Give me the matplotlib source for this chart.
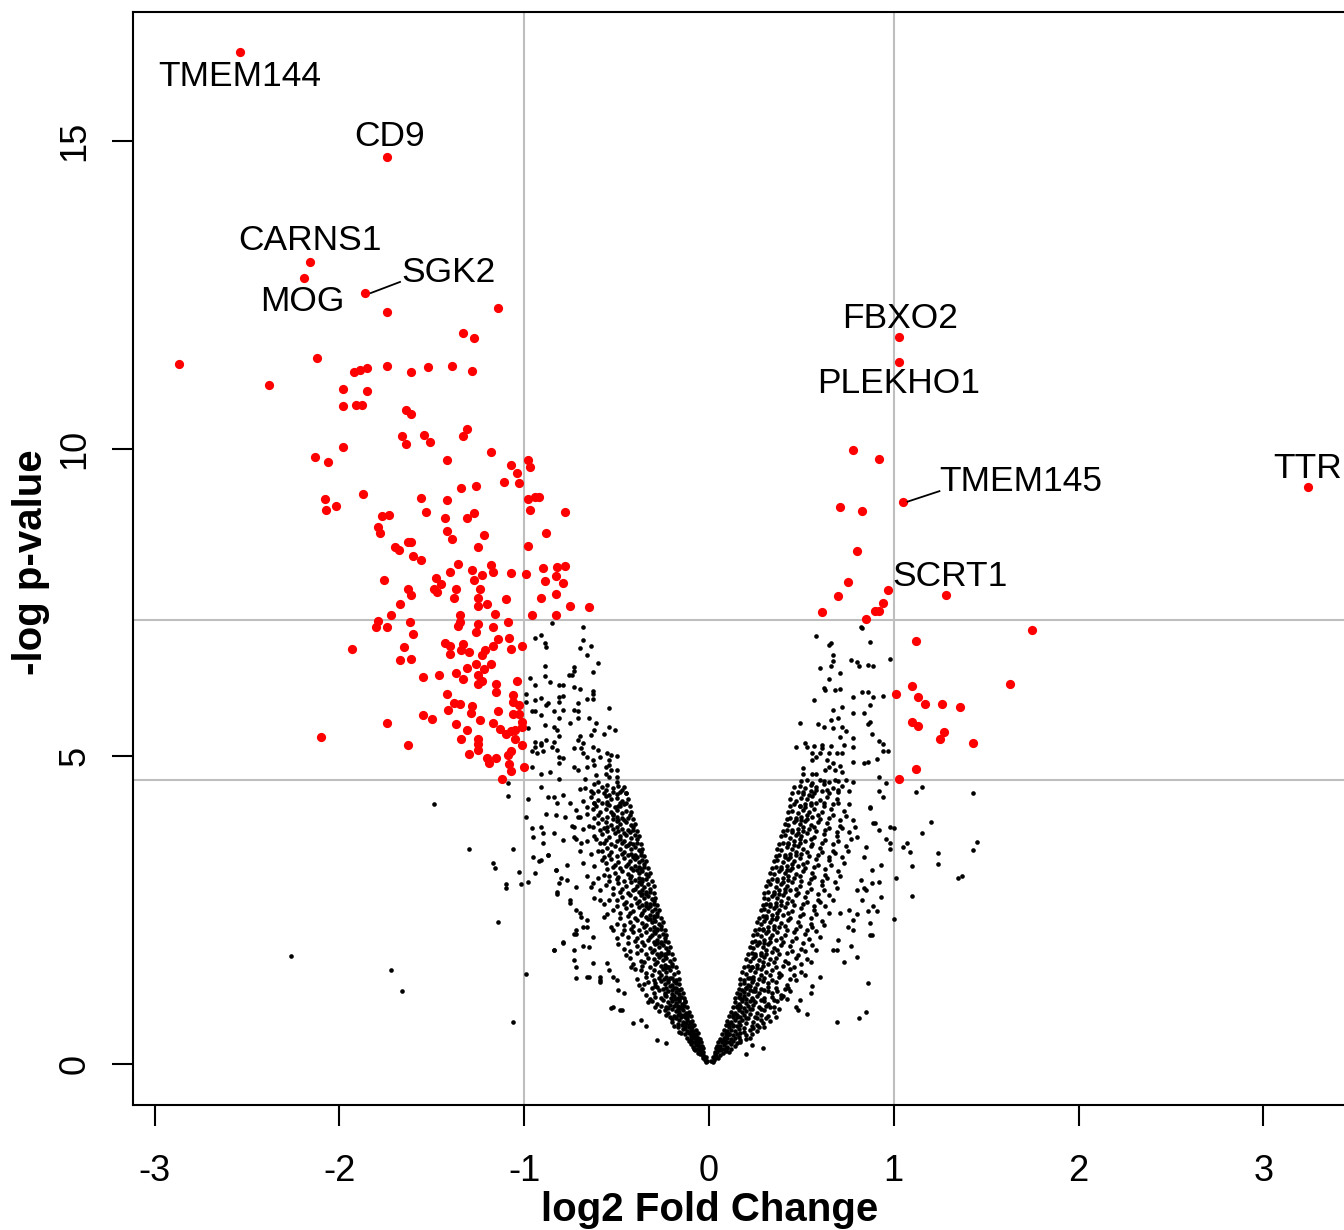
import matplotlib
matplotlib.use("Agg")
import matplotlib.pyplot as plt

plt.rcParams['font.family'] = ['Liberation Sans', 'DejaVu Sans']
plt.rcParams['axes.unicode_minus'] = False

# ---------------- data (log2 fold change, -log p-value) ----------------
red_left = [
    (-2.54, 16.44), (-1.74, 14.74), (-2.16, 13.04), (-2.19, 12.77), (-1.86, 12.53), (-1.74, 12.22), (-1.14, 12.29),
    (-1.33, 11.88), (-1.27, 11.80), (-2.12, 11.48), (-2.87, 11.37), (-1.92, 11.25), (-1.89, 11.28), (-1.85, 11.31),
    (-1.74, 11.34), (-1.61, 11.24), (-1.52, 11.32), (-1.39, 11.34), (-1.28, 11.26), (-2.38, 11.03), (-1.98, 10.97),
    (-1.85, 10.93), (-1.98, 10.69), (-1.91, 10.71), (-1.88, 10.71), (-1.64, 10.63), (-1.61, 10.57), (-1.66, 10.21),
    (-1.64, 10.07), (-1.54, 10.23), (-1.51, 10.11), (-1.33, 10.21), (-1.31, 10.32), (-1.98, 10.03), (-1.18, 9.95),
    (-2.13, 9.86), (-2.06, 9.78), (-1.42, 9.82), (-0.98, 9.82), (-1.07, 9.73), (-0.97, 9.71), (-1.04, 9.60),
    (-1.11, 9.46), (-1.03, 9.45), (-1.34, 9.36), (-1.26, 9.39), (-1.87, 9.27), (-2.08, 9.19), (-2.02, 9.07),
    (-2.07, 9.00), (-1.56, 9.20), (-1.42, 9.16), (-0.98, 9.18), (-0.94, 9.21), (-0.92, 9.21), (-0.97, 9.00),
    (-0.78, 8.97), (-1.53, 8.97), (-1.77, 8.90), (-1.73, 8.92), (-1.43, 8.87), (-1.31, 8.87), (-1.27, 8.96),
    (-1.79, 8.73), (-1.78, 8.63), (-1.42, 8.67), (-1.39, 8.53), (-1.22, 8.59), (-0.88, 8.63), (-1.63, 8.48),
    (-1.61, 8.48), (-1.70, 8.41), (-1.68, 8.36), (-1.25, 8.40), (-0.98, 8.42), (-1.60, 8.26), (-1.56, 8.19),
    (-1.36, 8.12), (-1.40, 7.99), (-1.28, 8.03), (-1.18, 8.11), (-1.17, 8.00), (-1.07, 7.98), (-0.99, 7.96),
    (-0.90, 8.06), (-0.82, 8.07), (-0.78, 8.10), (-0.83, 7.93), (-0.89, 7.85), (-0.79, 7.82), (-1.76, 7.87),
    (-1.48, 7.90), (-1.45, 7.80), (-1.49, 7.72), (-1.47, 7.67), (-1.63, 7.72), (-1.61, 7.63), (-1.37, 7.72),
    (-1.38, 7.58), (-1.27, 7.87), (-1.23, 7.94), (-1.24, 7.72), (-1.25, 7.57), (-1.25, 7.44), (-1.10, 7.56),
    (-0.91, 7.57), (-0.83, 7.64), (-0.75, 7.45), (-0.65, 7.43), (-1.67, 7.47), (-1.20, 7.47), (-1.72, 7.30),
    (-1.35, 7.30), (-1.16, 7.32), (-0.96, 7.30), (-0.83, 7.30), (-1.79, 7.20), (-1.80, 7.11), (-1.74, 7.11),
    (-1.62, 7.18), (-1.09, 7.19), (-1.36, 7.12), (-1.35, 7.19), (-1.25, 7.15), (-1.17, 7.11), (-1.60, 6.99),
    (-1.26, 7.02), (-1.14, 6.91), (-1.08, 6.92), (-1.93, 6.74), (-1.65, 6.78), (-1.67, 6.56), (-1.61, 6.58),
    (-1.43, 6.85), (-1.40, 6.80), (-1.40, 6.67), (-1.34, 6.73), (-1.33, 6.82), (-1.30, 6.70), (-1.21, 6.73),
    (-1.17, 6.80), (-1.07, 6.74), (-1.01, 6.80), (-1.23, 6.64), (-1.26, 6.50), (-1.22, 6.42), (-1.18, 6.50),
    (-1.31, 6.44), (-1.25, 6.32), (-1.23, 6.23), (-1.25, 6.17), (-1.37, 6.35), (-1.33, 6.26), (-1.46, 6.33),
    (-1.55, 6.29), (-1.15, 6.17), (-1.15, 6.04), (-1.04, 6.22), (-1.42, 6.01), (-1.38, 5.87), (-1.35, 5.85),
    (-1.28, 5.82), (-1.41, 5.75), (-1.29, 5.71), (-1.55, 5.67), (-1.50, 5.61), (-1.14, 5.74), (-1.06, 6.00),
    (-1.06, 5.89), (-1.03, 5.83), (-1.06, 5.69), (-1.03, 5.69), (-1.24, 5.59), (-1.37, 5.52), (-1.17, 5.55),
    (-1.01, 5.56), (-1.01, 5.48), (-1.13, 5.45), (-1.10, 5.36), (-1.07, 5.42), (-1.05, 5.43), (-1.31, 5.43),
    (-1.74, 5.54), (-2.10, 5.32), (-1.63, 5.19), (-1.34, 5.28), (-1.25, 5.29), (-1.25, 5.20), (-1.25, 5.10),
    (-1.05, 5.28), (-1.01, 5.18), (-1.30, 5.04), (-1.20, 4.98), (-1.19, 4.89), (-1.15, 4.98), (-1.09, 5.03),
    (-1.07, 5.09), (-1.08, 4.88), (-1.07, 4.76), (-1.00, 4.83), (-1.12, 4.63),
]

red_right = [
    (1.03, 11.82), (1.03, 11.41), (0.78, 9.98), (0.92, 9.84), (1.05, 9.14), (0.71, 9.06), (0.83, 8.98),
    (0.80, 8.34), (0.75, 7.84), (0.70, 7.61), (0.61, 7.35), (0.97, 7.71), (0.94, 7.49), (0.90, 7.37),
    (0.92, 7.37), (0.85, 7.24), (1.28, 7.63), (3.24, 9.37), (1.75, 7.06), (1.12, 6.87), (1.63, 6.17),
    (1.10, 6.15), (1.01, 6.01), (1.13, 5.96), (1.17, 5.85), (1.26, 5.85), (1.36, 5.80), (1.10, 5.56),
    (1.13, 5.50), (1.27, 5.40), (1.25, 5.28), (1.43, 5.21), (1.12, 4.79), (1.03, 4.63),
]

black_left_core = [
    (-0.01, 0.05), (-0.015, 0.04), (-0.02, 0.07),
    (-0.015, 0.12), (-0.025, 0.11), (-0.035, 0.13), (-0.03, 0.15),
    (-0.03, 0.2), (-0.04, 0.19), (-0.05, 0.22), (-0.06, 0.18), (-0.045, 0.24),
    (-0.04, 0.3), (-0.055, 0.29), (-0.07, 0.31), (-0.085, 0.28), (-0.06, 0.34), (-0.095, 0.33),
    (-0.05, 0.41), (-0.065, 0.39), (-0.08, 0.42), (-0.1, 0.4), (-0.12, 0.43), (-0.07, 0.46), (-0.09, 0.47),
    (-0.07, 0.55), (-0.085, 0.53), (-0.1, 0.56), (-0.12, 0.54), (-0.14, 0.57), (-0.16, 0.52), (-0.11, 0.6), (-0.13, 0.62),
    (-0.09, 0.7), (-0.105, 0.68), (-0.12, 0.72), (-0.14, 0.69), (-0.16, 0.71), (-0.18, 0.74), (-0.2, 0.68), (-0.13, 0.77), (-0.15, 0.79),
    (-0.11, 0.85), (-0.125, 0.83), (-0.14, 0.87), (-0.16, 0.84), (-0.18, 0.86), (-0.2, 0.9), (-0.22, 0.83), (-0.24, 0.88), (-0.15, 0.93), (-0.17, 0.95),
    (-0.13, 1.0), (-0.145, 0.98), (-0.16, 1.02), (-0.18, 0.99), (-0.2, 1.03), (-0.22, 1.0), (-0.25, 1.04), (-0.28, 0.98), (-0.31, 1.02), (-0.17, 1.08), (-0.19, 1.1),
    (-0.14, 1.15), (-0.16, 1.14), (-0.18, 1.17), (-0.2, 1.13), (-0.22, 1.18), (-0.24, 1.15), (-0.27, 1.2), (-0.3, 1.16), (-0.34, 1.12), (-0.19, 1.24), (-0.21, 1.26),
    (-0.16, 1.3), (-0.18, 1.32), (-0.2, 1.29), (-0.22, 1.33), (-0.24, 1.3), (-0.26, 1.35), (-0.29, 1.31), (-0.33, 1.34), (-0.38, 1.28), (-0.21, 1.4), (-0.23, 1.42),
    (-0.17, 1.5), (-0.19, 1.47), (-0.21, 1.52), (-0.23, 1.49), (-0.25, 1.54), (-0.27, 1.5), (-0.3, 1.53), (-0.34, 1.48), (-0.4, 1.55), (-0.22, 1.58), (-0.24, 1.61),
    (-0.19, 1.7), (-0.21, 1.68), (-0.23, 1.72), (-0.25, 1.69), (-0.27, 1.74), (-0.3, 1.7), (-0.33, 1.73), (-0.37, 1.67), (-0.43, 1.72), (-0.24, 1.78), (-0.26, 1.81),
    (-0.21, 1.9), (-0.23, 1.88), (-0.25, 1.93), (-0.27, 1.9), (-0.29, 1.95), (-0.32, 1.89), (-0.35, 1.94), (-0.39, 1.91), (-0.46, 1.87), (-0.26, 1.99), (-0.28, 2.02),
    (-0.23, 2.1), (-0.25, 2.12), (-0.27, 2.08), (-0.29, 2.13), (-0.31, 2.1), (-0.34, 2.15), (-0.37, 2.09), (-0.41, 2.14), (-0.47, 2.11), (-0.28, 2.2), (-0.3, 2.22),
    (-0.25, 2.3), (-0.27, 2.28), (-0.29, 2.33), (-0.31, 2.3), (-0.33, 2.35), (-0.36, 2.29), (-0.39, 2.34), (-0.43, 2.31), (-0.5, 2.27), (-0.3, 2.4), (-0.32, 2.42),
    (-0.27, 2.5), (-0.29, 2.52), (-0.31, 2.48), (-0.33, 2.53), (-0.35, 2.5), (-0.38, 2.55), (-0.41, 2.49), (-0.45, 2.54), (-0.52, 2.51), (-0.32, 2.6), (-0.34, 2.62),
    (-0.29, 2.7), (-0.31, 2.68), (-0.33, 2.73), (-0.35, 2.7), (-0.37, 2.75), (-0.4, 2.69), (-0.43, 2.74), (-0.47, 2.71), (-0.54, 2.67), (-0.34, 2.8), (-0.36, 2.82),
    (-0.3, 2.9), (-0.33, 2.92), (-0.35, 2.88), (-0.37, 2.93), (-0.39, 2.9), (-0.42, 2.95), (-0.45, 2.89), (-0.49, 2.94), (-0.56, 2.91), (-0.36, 3.0), (-0.38, 3.02),
    (-0.32, 3.1), (-0.34, 3.08), (-0.36, 3.13), (-0.38, 3.1), (-0.41, 3.15), (-0.44, 3.09), (-0.47, 3.14), (-0.51, 3.11), (-0.57, 3.07), (-0.38, 3.2), (-0.4, 3.22),
    (-0.34, 3.3), (-0.36, 3.32), (-0.38, 3.28), (-0.4, 3.33), (-0.43, 3.3), (-0.46, 3.35), (-0.49, 3.29), (-0.53, 3.34), (-0.58, 3.31), (-0.4, 3.4), (-0.42, 3.42),
    (-0.36, 3.5), (-0.38, 3.48), (-0.4, 3.53), (-0.42, 3.5), (-0.45, 3.55), (-0.48, 3.49), (-0.51, 3.54), (-0.55, 3.51), (-0.6, 3.47), (-0.43, 3.6), (-0.46, 3.62),
    (-0.38, 3.7), (-0.4, 3.72), (-0.42, 3.68), (-0.45, 3.73), (-0.48, 3.7), (-0.51, 3.75), (-0.54, 3.69), (-0.58, 3.74), (-0.62, 3.71), (-0.44, 3.8), (-0.47, 3.82),
    (-0.4, 3.9), (-0.42, 3.88), (-0.45, 3.93), (-0.48, 3.9), (-0.5, 3.95), (-0.53, 3.89), (-0.56, 3.94), (-0.6, 3.91), (-0.65, 3.87), (-0.47, 4.0), (-0.5, 4.02),
    (-0.42, 4.1), (-0.45, 4.12), (-0.47, 4.08), (-0.5, 4.13), (-0.53, 4.1), (-0.56, 4.15), (-0.59, 4.09), (-0.63, 4.14), (-0.49, 4.2), (-0.55, 4.22),
    (-0.44, 4.3), (-0.47, 4.28), (-0.5, 4.33), (-0.53, 4.3), (-0.56, 4.35), (-0.6, 4.29), (-0.64, 4.34), (-0.52, 4.42),
    (-0.46, 4.5), (-0.49, 4.52), (-0.52, 4.48), (-0.55, 4.53), (-0.58, 4.5), (-0.62, 4.55), (-0.67, 4.49),
]

black_left_core2 = [
    (-0.035, 0.26), (-0.05, 0.27), (-0.065, 0.25), (-0.075, 0.23),
    (-0.045, 0.36), (-0.065, 0.37), (-0.08, 0.35), (-0.1, 0.36), (-0.11, 0.38),
    (-0.06, 0.5), (-0.075, 0.49), (-0.09, 0.51), (-0.11, 0.5), (-0.13, 0.49), (-0.15, 0.5),
    (-0.08, 0.63), (-0.095, 0.65), (-0.11, 0.64), (-0.125, 0.66), (-0.145, 0.63), (-0.17, 0.65), (-0.19, 0.62),
    (-0.1, 0.78), (-0.115, 0.8), (-0.135, 0.79), (-0.15, 0.76), (-0.17, 0.8), (-0.19, 0.78), (-0.21, 0.76), (-0.23, 0.8),
    (-0.12, 0.93), (-0.135, 0.95), (-0.15, 0.91), (-0.17, 0.92), (-0.19, 0.94), (-0.21, 0.96), (-0.23, 0.93), (-0.26, 0.95), (-0.29, 0.92),
    (-0.135, 1.07), (-0.15, 1.09), (-0.165, 1.06), (-0.185, 1.05), (-0.205, 1.08), (-0.23, 1.1), (-0.26, 1.07), (-0.29, 1.09), (-0.32, 1.06),
    (-0.15, 1.22), (-0.165, 1.21), (-0.18, 1.23), (-0.2, 1.21), (-0.23, 1.24), (-0.25, 1.22), (-0.28, 1.25), (-0.31, 1.23), (-0.36, 1.22),
    (-0.165, 1.38), (-0.18, 1.37), (-0.2, 1.39), (-0.22, 1.36), (-0.245, 1.38), (-0.27, 1.4), (-0.3, 1.37), (-0.34, 1.41), (-0.39, 1.38),
    (-0.18, 1.58), (-0.2, 1.6), (-0.22, 1.57), (-0.24, 1.56), (-0.26, 1.59), (-0.29, 1.62), (-0.32, 1.58), (-0.36, 1.6), (-0.42, 1.58),
    (-0.2, 1.78), (-0.22, 1.8), (-0.24, 1.76), (-0.26, 1.77), (-0.28, 1.79), (-0.31, 1.82), (-0.34, 1.78), (-0.39, 1.8), (-0.45, 1.77),
    (-0.22, 1.98), (-0.24, 2.0), (-0.26, 1.97), (-0.28, 1.96), (-0.3, 1.99), (-0.33, 2.02), (-0.36, 1.98), (-0.4, 2.0), (-0.44, 1.97),
    (-0.24, 2.18), (-0.26, 2.2), (-0.28, 2.17), (-0.3, 2.16), (-0.32, 2.19), (-0.35, 2.22), (-0.38, 2.18), (-0.42, 2.2), (-0.46, 2.17),
    (-0.26, 2.38), (-0.28, 2.4), (-0.3, 2.37), (-0.32, 2.36), (-0.34, 2.39), (-0.37, 2.42), (-0.4, 2.38), (-0.44, 2.4), (-0.48, 2.37),
    (-0.28, 2.58), (-0.3, 2.6), (-0.32, 2.57), (-0.34, 2.56), (-0.36, 2.59), (-0.39, 2.62), (-0.42, 2.58), (-0.46, 2.6), (-0.5, 2.57),
    (-0.3, 2.78), (-0.32, 2.8), (-0.34, 2.77), (-0.36, 2.76), (-0.38, 2.79), (-0.41, 2.82), (-0.44, 2.78), (-0.48, 2.8), (-0.52, 2.77),
    (-0.31, 2.98), (-0.34, 3.0), (-0.36, 2.97), (-0.38, 2.96), (-0.4, 2.99), (-0.43, 3.02), (-0.46, 2.98), (-0.5, 3.0), (-0.54, 2.97),
    (-0.33, 3.18), (-0.35, 3.2), (-0.37, 3.17), (-0.39, 3.16), (-0.42, 3.19), (-0.45, 3.22), (-0.48, 3.18), (-0.52, 3.2), (-0.55, 3.17),
    (-0.35, 3.38), (-0.37, 3.4), (-0.39, 3.37), (-0.41, 3.36), (-0.44, 3.39), (-0.47, 3.42), (-0.5, 3.38), (-0.54, 3.4), (-0.57, 3.37),
    (-0.37, 3.58), (-0.39, 3.6), (-0.41, 3.57), (-0.44, 3.56), (-0.47, 3.59), (-0.5, 3.62), (-0.53, 3.58), (-0.57, 3.6),
    (-0.39, 3.78), (-0.41, 3.8), (-0.43, 3.77), (-0.46, 3.76), (-0.49, 3.79), (-0.52, 3.82), (-0.55, 3.78), (-0.59, 3.8),
    (-0.41, 3.98), (-0.44, 4.0), (-0.46, 3.97), (-0.49, 3.96), (-0.52, 3.99), (-0.55, 4.02), (-0.58, 3.98), (-0.62, 4.0),
    (-0.43, 4.2), (-0.46, 4.22), (-0.48, 4.19), (-0.51, 4.18), (-0.54, 4.21), (-0.58, 4.24), (-0.61, 4.2),
    (-0.45, 4.4), (-0.48, 4.42), (-0.5, 4.39), (-0.54, 4.38), (-0.57, 4.41), (-0.6, 4.44), (-0.63, 4.4),
]

black_left_core3 = [
    (-0.03, 0.09), (-0.05, 0.16), (-0.08, 0.24), (-0.06, 0.42), (-0.1, 0.45), (-0.13, 0.58), (-0.09, 0.6),
    (-0.17, 0.6), (-0.12, 0.74), (-0.2, 0.73), (-0.17, 0.89), (-0.22, 0.91), (-0.27, 0.86), (-0.13, 1.03),
    (-0.24, 1.12), (-0.33, 1.0), (-0.29, 1.27), (-0.35, 1.3), (-0.19, 1.35), (-0.26, 1.45), (-0.31, 1.45),
    (-0.37, 1.52), (-0.2, 1.63), (-0.28, 1.66), (-0.35, 1.65), (-0.41, 1.62), (-0.22, 1.84), (-0.3, 1.86),
    (-0.37, 1.85), (-0.43, 1.83), (-0.49, 1.95), (-0.24, 2.05), (-0.32, 2.06), (-0.39, 2.05), (-0.44, 2.07),
    (-0.5, 2.04), (-0.26, 2.25), (-0.34, 2.26), (-0.41, 2.25), (-0.46, 2.26), (-0.53, 2.22), (-0.28, 2.45),
    (-0.36, 2.45), (-0.43, 2.45), (-0.48, 2.46), (-0.55, 2.43), (-0.3, 2.65), (-0.38, 2.65), (-0.45, 2.64),
    (-0.5, 2.66), (-0.57, 2.6), (-0.62, 2.7), (-0.32, 2.85), (-0.4, 2.85), (-0.47, 2.84), (-0.52, 2.86),
    (-0.59, 2.83), (-0.64, 2.88), (-0.33, 3.05), (-0.42, 3.05), (-0.49, 3.04), (-0.54, 3.06), (-0.6, 3.02),
    (-0.66, 3.05), (-0.35, 3.25), (-0.44, 3.25), (-0.51, 3.24), (-0.56, 3.26), (-0.62, 3.22), (-0.68, 3.27),
    (-0.37, 3.45), (-0.46, 3.45), (-0.53, 3.44), (-0.58, 3.46), (-0.64, 3.42), (-0.7, 3.47), (-0.39, 3.65),
    (-0.48, 3.65), (-0.56, 3.64), (-0.61, 3.66), (-0.66, 3.62), (-0.72, 3.66), (-0.41, 3.85), (-0.5, 3.85),
    (-0.57, 3.84), (-0.63, 3.86), (-0.68, 3.82), (-0.74, 3.87), (-0.43, 4.05), (-0.52, 4.05), (-0.6, 4.04),
    (-0.66, 4.06), (-0.71, 4.02), (-0.45, 4.25), (-0.55, 4.26), (-0.62, 4.24), (-0.68, 4.27), (-0.47, 4.45),
    (-0.56, 4.46), (-0.64, 4.44), (-0.7, 4.47), (-0.5, 4.58), (-0.6, 4.59),
]

black_right_core = [
    (0.01, 0.05), (0.02, 0.04), (0.025, 0.07),
    (0.02, 0.12), (0.03, 0.11), (0.04, 0.13), (0.05, 0.1), (0.035, 0.16),
    (0.03, 0.2), (0.045, 0.19), (0.06, 0.22), (0.075, 0.18), (0.09, 0.21), (0.05, 0.25),
    (0.045, 0.3), (0.06, 0.29), (0.08, 0.31), (0.1, 0.28), (0.12, 0.32), (0.14, 0.29), (0.07, 0.35), (0.09, 0.36),
    (0.06, 0.41), (0.08, 0.39), (0.1, 0.42), (0.12, 0.4), (0.14, 0.43), (0.17, 0.39), (0.2, 0.41), (0.09, 0.46), (0.11, 0.48),
    (0.08, 0.55), (0.1, 0.53), (0.12, 0.56), (0.14, 0.54), (0.16, 0.57), (0.19, 0.52), (0.22, 0.56), (0.26, 0.54), (0.11, 0.6), (0.13, 0.62), (0.3, 0.6),
    (0.1, 0.7), (0.12, 0.68), (0.14, 0.72), (0.16, 0.69), (0.18, 0.71), (0.21, 0.74), (0.24, 0.68), (0.28, 0.72), (0.13, 0.77), (0.15, 0.79), (0.33, 0.7),
    (0.12, 0.85), (0.14, 0.83), (0.16, 0.87), (0.18, 0.84), (0.2, 0.86), (0.23, 0.9), (0.26, 0.83), (0.3, 0.88), (0.15, 0.93), (0.17, 0.95), (0.35, 0.85),
    (0.14, 1.0), (0.16, 0.98), (0.18, 1.02), (0.2, 0.99), (0.22, 1.03), (0.25, 1.0), (0.28, 1.04), (0.32, 0.98), (0.37, 1.02), (0.17, 1.08), (0.19, 1.1), (0.42, 1.05),
    (0.15, 1.15), (0.17, 1.14), (0.19, 1.17), (0.21, 1.13), (0.24, 1.18), (0.27, 1.15), (0.3, 1.2), (0.34, 1.16), (0.39, 1.12), (0.2, 1.24), (0.22, 1.26), (0.44, 1.18),
    (0.17, 1.3), (0.19, 1.32), (0.21, 1.29), (0.23, 1.33), (0.26, 1.3), (0.29, 1.35), (0.32, 1.31), (0.36, 1.34), (0.42, 1.28), (0.22, 1.4), (0.24, 1.42), (0.47, 1.36),
    (0.18, 1.5), (0.2, 1.47), (0.22, 1.52), (0.25, 1.49), (0.28, 1.54), (0.31, 1.5), (0.34, 1.53), (0.38, 1.48), (0.44, 1.55), (0.23, 1.58), (0.26, 1.61), (0.5, 1.5),
    (0.2, 1.7), (0.22, 1.68), (0.24, 1.72), (0.27, 1.69), (0.3, 1.74), (0.33, 1.7), (0.36, 1.73), (0.41, 1.67), (0.47, 1.72), (0.25, 1.78), (0.28, 1.81), (0.53, 1.7),
    (0.22, 1.9), (0.24, 1.88), (0.26, 1.93), (0.29, 1.9), (0.32, 1.95), (0.35, 1.89), (0.39, 1.94), (0.44, 1.91), (0.5, 1.87), (0.27, 1.99), (0.3, 2.02), (0.56, 1.93),
    (0.24, 2.1), (0.26, 2.12), (0.28, 2.08), (0.31, 2.13), (0.34, 2.1), (0.37, 2.15), (0.41, 2.09), (0.46, 2.14), (0.52, 2.11), (0.29, 2.2), (0.32, 2.22), (0.58, 2.16),
    (0.26, 2.3), (0.28, 2.28), (0.3, 2.33), (0.33, 2.3), (0.36, 2.35), (0.39, 2.29), (0.43, 2.34), (0.48, 2.31), (0.55, 2.27), (0.31, 2.4), (0.34, 2.42), (0.61, 2.33),
    (0.28, 2.5), (0.3, 2.52), (0.32, 2.48), (0.35, 2.53), (0.38, 2.5), (0.41, 2.55), (0.45, 2.49), (0.5, 2.54), (0.57, 2.51), (0.33, 2.6), (0.36, 2.62), (0.63, 2.56),
    (0.3, 2.7), (0.32, 2.68), (0.34, 2.73), (0.37, 2.7), (0.4, 2.75), (0.43, 2.69), (0.47, 2.74), (0.52, 2.71), (0.59, 2.67), (0.35, 2.8), (0.38, 2.82), (0.65, 2.74),
    (0.31, 2.9), (0.33, 2.92), (0.36, 2.88), (0.39, 2.93), (0.42, 2.9), (0.45, 2.95), (0.49, 2.89), (0.54, 2.94), (0.61, 2.91), (0.37, 3.0), (0.4, 3.02), (0.68, 2.96),
    (0.33, 3.1), (0.35, 3.08), (0.38, 3.13), (0.41, 3.1), (0.44, 3.15), (0.47, 3.09), (0.51, 3.14), (0.56, 3.11), (0.63, 3.07), (0.39, 3.2), (0.42, 3.22), (0.7, 3.13),
    (0.35, 3.3), (0.37, 3.32), (0.4, 3.28), (0.43, 3.33), (0.46, 3.3), (0.49, 3.35), (0.53, 3.29), (0.58, 3.34), (0.65, 3.31), (0.41, 3.4), (0.44, 3.42), (0.72, 3.36),
    (0.37, 3.5), (0.39, 3.48), (0.42, 3.53), (0.45, 3.5), (0.48, 3.55), (0.51, 3.49), (0.55, 3.54), (0.6, 3.51), (0.67, 3.47), (0.43, 3.6), (0.46, 3.62), (0.74, 3.55),
    (0.39, 3.7), (0.41, 3.72), (0.44, 3.68), (0.47, 3.73), (0.5, 3.7), (0.53, 3.75), (0.57, 3.69), (0.62, 3.74), (0.69, 3.71), (0.45, 3.8), (0.48, 3.82), (0.76, 3.77),
    (0.41, 3.9), (0.43, 3.88), (0.46, 3.93), (0.49, 3.9), (0.52, 3.95), (0.55, 3.89), (0.59, 3.94), (0.64, 3.91), (0.71, 3.87), (0.47, 4.0), (0.5, 4.02), (0.78, 3.96),
    (0.43, 4.1), (0.45, 4.12), (0.48, 4.08), (0.51, 4.13), (0.54, 4.1), (0.57, 4.15), (0.61, 4.09), (0.66, 4.14), (0.73, 4.11), (0.49, 4.2), (0.52, 4.22),
    (0.44, 4.3), (0.47, 4.28), (0.5, 4.33), (0.53, 4.3), (0.56, 4.35), (0.6, 4.29), (0.64, 4.34), (0.69, 4.31), (0.51, 4.42), (0.55, 4.44),
    (0.46, 4.5), (0.49, 4.52), (0.52, 4.48), (0.55, 4.53), (0.58, 4.5), (0.62, 4.55), (0.67, 4.49), (0.72, 4.52),
]

black_right_core2 = [
    (0.04, 0.26), (0.055, 0.27), (0.07, 0.25), (0.085, 0.24), (0.1, 0.26), (0.12, 0.24),
    (0.05, 0.36), (0.07, 0.37), (0.09, 0.35), (0.11, 0.36), (0.13, 0.38), (0.15, 0.34), (0.17, 0.36),
    (0.07, 0.48), (0.09, 0.5), (0.11, 0.49), (0.13, 0.47), (0.15, 0.49), (0.17, 0.5), (0.2, 0.47), (0.23, 0.49),
    (0.09, 0.63), (0.11, 0.65), (0.13, 0.64), (0.15, 0.62), (0.17, 0.64), (0.2, 0.66), (0.23, 0.62), (0.26, 0.64), (0.29, 0.66),
    (0.11, 0.78), (0.13, 0.8), (0.15, 0.77), (0.17, 0.76), (0.19, 0.79), (0.22, 0.81), (0.25, 0.77), (0.28, 0.79), (0.32, 0.78),
    (0.13, 0.93), (0.15, 0.95), (0.17, 0.92), (0.19, 0.91), (0.21, 0.94), (0.24, 0.96), (0.27, 0.92), (0.31, 0.94), (0.35, 0.92),
    (0.14, 1.07), (0.16, 1.09), (0.18, 1.06), (0.2, 1.05), (0.23, 1.08), (0.26, 1.1), (0.3, 1.07), (0.34, 1.09), (0.39, 1.07),
    (0.16, 1.22), (0.18, 1.21), (0.2, 1.23), (0.22, 1.21), (0.25, 1.24), (0.28, 1.22), (0.32, 1.25), (0.36, 1.23), (0.41, 1.22),
    (0.17, 1.38), (0.19, 1.37), (0.21, 1.39), (0.24, 1.36), (0.27, 1.38), (0.3, 1.4), (0.34, 1.37), (0.38, 1.41), (0.44, 1.38),
    (0.19, 1.58), (0.21, 1.6), (0.23, 1.57), (0.26, 1.56), (0.29, 1.59), (0.32, 1.62), (0.36, 1.58), (0.4, 1.6), (0.46, 1.58),
    (0.21, 1.78), (0.23, 1.8), (0.25, 1.76), (0.28, 1.77), (0.31, 1.79), (0.34, 1.82), (0.38, 1.78), (0.42, 1.8), (0.48, 1.77),
    (0.23, 1.98), (0.25, 2.0), (0.27, 1.97), (0.3, 1.96), (0.33, 1.99), (0.36, 2.02), (0.4, 1.98), (0.45, 2.0), (0.51, 1.97),
    (0.25, 2.18), (0.27, 2.2), (0.29, 2.17), (0.32, 2.16), (0.35, 2.19), (0.38, 2.22), (0.42, 2.18), (0.47, 2.2), (0.53, 2.17),
    (0.27, 2.38), (0.29, 2.4), (0.31, 2.37), (0.34, 2.36), (0.37, 2.39), (0.4, 2.42), (0.44, 2.38), (0.49, 2.4), (0.55, 2.37),
    (0.29, 2.58), (0.31, 2.6), (0.33, 2.57), (0.36, 2.56), (0.39, 2.59), (0.42, 2.62), (0.46, 2.58), (0.51, 2.6), (0.57, 2.57),
    (0.3, 2.78), (0.32, 2.8), (0.35, 2.77), (0.38, 2.76), (0.41, 2.79), (0.44, 2.82), (0.48, 2.78), (0.53, 2.8), (0.59, 2.77),
    (0.32, 2.98), (0.34, 3.0), (0.37, 2.97), (0.4, 2.96), (0.43, 2.99), (0.46, 3.02), (0.5, 2.98), (0.55, 3.0), (0.61, 2.97),
    (0.34, 3.18), (0.36, 3.2), (0.39, 3.17), (0.42, 3.16), (0.45, 3.19), (0.48, 3.22), (0.52, 3.18), (0.57, 3.2), (0.63, 3.17),
    (0.36, 3.38), (0.38, 3.4), (0.41, 3.37), (0.44, 3.36), (0.47, 3.39), (0.5, 3.42), (0.54, 3.38), (0.59, 3.4), (0.65, 3.37),
    (0.38, 3.58), (0.4, 3.6), (0.43, 3.57), (0.46, 3.56), (0.49, 3.59), (0.52, 3.62), (0.56, 3.58), (0.61, 3.6), (0.67, 3.57),
    (0.4, 3.78), (0.42, 3.8), (0.45, 3.77), (0.48, 3.76), (0.51, 3.79), (0.54, 3.82), (0.58, 3.78), (0.63, 3.8), (0.69, 3.77),
    (0.42, 3.98), (0.44, 4.0), (0.47, 3.97), (0.5, 3.96), (0.53, 3.99), (0.56, 4.02), (0.6, 3.98), (0.65, 4.0), (0.71, 3.97),
    (0.44, 4.2), (0.46, 4.22), (0.49, 4.19), (0.52, 4.18), (0.55, 4.21), (0.58, 4.24), (0.62, 4.2), (0.67, 4.22),
    (0.45, 4.4), (0.48, 4.42), (0.51, 4.39), (0.54, 4.38), (0.57, 4.41), (0.61, 4.44), (0.65, 4.4), (0.7, 4.42),
]

black_right_core3 = [
    (0.03, 0.09), (0.06, 0.15), (0.11, 0.2), (0.08, 0.42), (0.16, 0.44), (0.22, 0.43), (0.19, 0.59),
    (0.24, 0.58), (0.27, 0.6), (0.2, 0.75), (0.26, 0.74), (0.31, 0.74), (0.36, 0.77), (0.22, 0.89),
    (0.28, 0.89), (0.33, 0.92), (0.38, 0.9), (0.24, 1.04), (0.3, 1.02), (0.35, 1.04), (0.4, 1.1),
    (0.25, 1.19), (0.32, 1.18), (0.37, 1.19), (0.43, 1.24), (0.28, 1.45), (0.33, 1.45), (0.39, 1.44),
    (0.46, 1.45), (0.52, 1.45), (0.29, 1.65), (0.35, 1.65), (0.43, 1.64), (0.5, 1.63), (0.55, 1.66),
    (0.31, 1.85), (0.37, 1.85), (0.45, 1.84), (0.52, 1.83), (0.58, 1.85), (0.33, 2.05), (0.39, 2.05),
    (0.47, 2.04), (0.54, 2.03), (0.6, 2.06), (0.35, 2.25), (0.41, 2.25), (0.49, 2.24), (0.56, 2.23),
    (0.62, 2.26), (0.37, 2.45), (0.43, 2.45), (0.51, 2.44), (0.58, 2.43), (0.65, 2.46), (0.39, 2.65),
    (0.45, 2.65), (0.53, 2.64), (0.6, 2.63), (0.67, 2.66), (0.41, 2.85), (0.47, 2.85), (0.55, 2.84),
    (0.62, 2.83), (0.69, 2.86), (0.43, 3.05), (0.49, 3.05), (0.57, 3.04), (0.64, 3.03), (0.71, 3.06),
    (0.45, 3.25), (0.51, 3.25), (0.59, 3.24), (0.66, 3.23), (0.73, 3.26), (0.47, 3.45), (0.53, 3.45),
    (0.61, 3.44), (0.68, 3.43), (0.75, 3.46), (0.49, 3.65), (0.55, 3.65), (0.63, 3.64), (0.7, 3.63),
    (0.77, 3.66), (0.51, 3.85), (0.57, 3.85), (0.65, 3.84), (0.72, 3.83), (0.79, 3.86), (0.53, 4.05),
    (0.59, 4.05), (0.67, 4.04), (0.74, 4.03), (0.55, 4.25), (0.62, 4.25), (0.7, 4.24), (0.76, 4.23),
    (0.58, 4.45), (0.64, 4.46), (0.7, 4.45), (0.76, 4.44), (0.5, 4.6), (0.62, 4.6), (0.7, 4.6),
]

black_left_scatter = [
    (-2.26, 1.76), (-1.72, 1.53), (-1.66, 1.19), (-1.49, 4.22), (-1.30, 3.49), (-1.06, 3.49), (-1.17, 3.27),
    (-1.16, 3.18), (-1.10, 2.93), (-1.10, 2.86), (-1.03, 3.12), (-1.02, 2.92), (-1.14, 2.30), (-0.99, 1.46),
    (-1.06, 0.69), (-1.09, 4.56), (-1.09, 4.36), (-0.99, 4.02), (-0.98, 2.96), (-0.94, 3.11), (-0.84, 1.85),
    (-0.79, 1.98), (-0.73, 1.85), (-0.72, 1.58), (-0.65, 1.90), (-0.66, 1.42), (-0.59, 1.42), (-0.59, 1.34),
    (-0.85, 7.16), (-0.68, 7.10), (-0.94, 6.92), (-0.91, 6.98), (-0.89, 6.84), (-0.88, 6.78), (-0.68, 6.89),
    (-0.70, 6.76), (-0.64, 6.80), (-0.66, 6.65), (-0.89, 6.47), (-0.89, 6.31), (-0.60, 6.51), (-0.63, 6.37),
    (-0.73, 6.46), (-0.73, 6.38), (-0.76, 6.32), (-0.74, 6.32), (-0.97, 6.27), (-0.94, 6.16), (-0.86, 6.21),
    (-0.81, 6.16), (-0.79, 6.16), (-0.73, 6.13), (-0.70, 6.09), (-0.63, 6.06), (-0.63, 6.01), (-0.99, 6.02),
    (-0.99, 5.89), (-0.94, 5.92), (-0.91, 5.95), (-0.87, 5.86), (-0.88, 5.83), (-0.81, 5.96), (-0.79, 5.98),
    (-0.81, 5.89), (-0.71, 5.86), (-0.66, 5.93), (-0.63, 5.93), (-0.54, 5.79), (-0.96, 5.73), (-0.91, 5.67),
    (-0.94, 5.73), (-0.84, 5.73), (-0.79, 5.75), (-0.73, 5.75), (-0.71, 5.73), (-0.81, 5.62), (-0.75, 5.54),
    (-0.71, 5.62), (-0.65, 5.62), (-0.61, 5.54), (-0.98, 5.46), (-0.89, 5.51), (-0.84, 5.48), (-0.82, 5.43),
    (-0.54, 5.48), (-0.51, 5.43), (-0.62, 5.43), (-0.64, 5.35), (-0.57, 5.36), (-0.81, 5.33), (-0.70, 5.33),
    (-0.71, 5.27), (-0.68, 5.21), (-0.94, 5.24), (-0.91, 5.21), (-0.88, 5.27), (-0.84, 5.24), (-0.94, 5.16),
    (-0.91, 5.18), (-0.96, 5.08), (-0.93, 5.05), (-0.90, 5.08), (-0.85, 5.16), (-0.82, 5.10), (-0.81, 4.99),
    (-0.73, 5.13), (-0.69, 5.13), (-0.68, 5.05), (-0.66, 4.99), (-0.63, 5.16), (-0.63, 4.94), (-0.60, 5.10),
    (-0.59, 4.99), (-0.55, 5.05), (-0.53, 5.02), (-0.50, 5.01), (-0.54, 4.94), (-0.96, 4.83), (-0.91, 4.72),
    (-0.86, 4.75), (-0.81, 4.89), (-0.79, 4.97), (-0.73, 4.83), (-0.71, 4.78), (-0.66, 4.83), (-0.62, 4.86),
    (-0.56, 4.83), (-0.54, 4.86), (-0.53, 4.78), (-0.50, 4.78), (-0.54, 4.67), (-0.50, 4.67), (-0.81, 4.64),
    (-0.67, 4.64), (-0.61, 4.70), (-0.56, 4.72),
    (-0.98, 4.30), (-0.96, 3.83), (-0.91, 3.86), (-0.95, 3.69), (-0.90, 3.59), (-0.95, 3.37), (-0.92, 3.30),
    (-0.87, 3.40), (-0.83, 4.05), (-0.78, 4.02), (-0.73, 3.86), (-0.70, 4.02), (-0.91, 4.51), (-0.87, 4.34),
    (-0.82, 4.24), (-0.79, 4.37), (-0.75, 4.24), (-0.72, 4.13), (-0.66, 4.18), (-0.62, 4.24), (-0.84, 3.75),
    (-0.79, 3.64), (-0.73, 3.69), (-0.69, 3.59), (-0.83, 3.15), (-0.80, 3.02), (-0.77, 3.23), (-0.72, 2.88),
    (-0.75, 2.67), (-0.72, 2.50), (-0.82, 2.77), (-0.69, 2.39), (-0.66, 2.23), (-0.72, 2.12), (-0.68, 1.91),
    (-0.55, 1.64), (-0.52, 1.42), (-0.49, 1.20), (-0.52, 0.93), (-0.47, 0.88), (-0.41, 0.66), (-0.34, 0.61),
    (-0.28, 0.39), (-0.23, 0.34), (-0.63, 2.94), (-0.59, 2.67), (-0.57, 2.39), (-0.52, 2.18), (-0.59, 3.59),
    (-0.55, 3.86), (-0.52, 4.07), (-0.48, 4.24), (-0.45, 4.40),
    (-0.37, 0.72), (-0.53, 0.91), (-0.48, 0.88), (-0.46, 1.15), (-0.50, 1.37), (-0.54, 1.53), (-0.72, 1.39),
    (-0.65, 1.42), (-0.59, 1.37), (-0.63, 1.64), (-0.73, 1.69), (-0.84, 1.85), (-0.79, 1.96), (-0.73, 2.12),
    (-0.68, 2.23), (-0.82, 2.80), (-0.81, 2.94), (-0.77, 2.99), (-0.75, 2.61), (-0.83, 3.15), (-0.91, 3.32),
    (-0.87, 3.40), (-0.90, 3.75), (-0.88, 4.07), (-0.84, 4.34), (-0.70, 2.45), (-0.66, 2.34), (-0.72, 2.18),
    (-0.63, 2.07),
]

black_right_scatter = [
    (0.58, 6.96), (0.66, 6.84), (0.65, 6.81), (0.67, 6.65), (0.67, 6.55), (0.66, 6.47), (0.60, 6.43),
    (0.77, 6.57), (0.80, 6.54), (0.81, 6.47), (0.71, 6.35), (0.65, 6.25), (0.62, 6.11), (0.63, 6.08),
    (0.68, 6.08), (0.71, 6.09), (0.57, 5.92), (0.78, 5.97), (0.72, 5.81), (0.67, 5.75), (0.78, 5.70),
    (0.70, 5.62), (0.66, 5.59), (0.49, 5.55), (0.59, 5.52), (0.62, 5.48), (0.67, 5.46), (0.72, 5.47),
    (0.74, 5.41), (0.71, 5.32), (0.78, 5.30), (0.47, 5.16), (0.52, 5.21), (0.53, 5.16), (0.57, 5.17),
    (0.61, 5.18), (0.61, 5.13), (0.66, 5.17), (0.73, 5.18), (0.78, 5.16), (0.56, 5.05), (0.58, 4.99),
    (0.60, 5.05), (0.65, 5.05), (0.69, 5.06), (0.72, 5.05), (0.56, 4.94), (0.64, 4.94), (0.67, 4.89),
    (0.71, 4.84), (0.78, 4.91), (0.51, 4.81), (0.51, 4.72), (0.56, 4.72), (0.58, 4.72), (0.63, 4.78),
    (0.65, 4.83), (0.68, 4.78), (0.72, 4.75), (0.53, 4.62), (0.56, 4.56), (0.60, 4.62), (0.65, 4.59),
    (0.68, 4.62), (0.74, 4.62), (0.78, 4.59),
    (0.98, 6.58), (0.87, 6.86), (0.82, 7.11), (0.83, 7.08), (0.86, 6.48), (0.89, 6.47), (0.83, 6.05),
    (0.86, 6.05), (0.89, 5.97), (0.94, 5.98), (0.87, 5.83), (0.84, 5.71), (0.87, 5.56), (0.86, 5.52),
    (0.88, 5.36), (0.92, 5.25), (0.94, 5.20), (0.97, 5.08), (0.94, 5.08), (0.84, 4.89), (0.86, 4.91),
    (0.91, 4.95), (0.92, 4.67), (1.43, 4.40), (1.12, 4.42), (1.15, 4.50),
    (0.96, 4.56), (0.92, 4.43), (0.94, 4.34), (0.87, 4.16), (0.90, 3.91), (0.92, 3.80), (0.96, 3.66),
    (0.98, 3.59), (0.93, 3.23), (0.92, 2.96), (0.93, 2.72), (0.91, 2.48), (0.87, 2.10), (0.88, 3.15),
    (0.88, 2.94), (0.84, 2.86), (0.83, 2.67), (0.80, 2.43), (0.78, 2.18), (0.77, 1.91), (0.80, 1.74),
    (0.73, 1.66), (0.69, 1.85), (0.86, 1.32), (0.85, 0.85), (0.81, 0.74), (0.69, 0.69), (1.45, 3.61),
    (1.43, 3.48), (1.37, 3.06), (1.35, 3.03), (1.24, 3.43), (1.24, 3.25), (1.20, 3.94), (1.15, 3.76),
    (1.10, 3.22), (1.10, 2.73), (1.07, 3.60), (1.05, 3.53), (1.09, 3.45), (1.01, 3.03), (1.00, 2.35),
    (0.98, 3.85), (1.00, 3.84), (0.98, 3.49),
    (0.70, 2.02), (0.67, 1.85), (0.53, 0.82), (0.48, 0.88), (0.88, 2.10), (0.87, 2.29), (0.86, 2.48),
    (0.89, 2.56), (0.75, 2.23), (0.78, 2.34), (0.71, 2.45), (0.76, 2.50), (0.82, 2.99), (0.85, 2.83),
    (0.80, 2.83), (0.84, 3.37), (0.80, 3.69), (0.85, 3.53), (0.89, 3.91), (0.87, 4.18), (0.56, 1.26),
    (0.60, 1.42), (0.49, 1.04), (0.47, 0.93), (0.55, 1.15), (0.23, 0.31), (0.29, 0.26), (0.20, 0.17),
]

genes = ["TMEM144", "CD9", "CARNS1", "MOG", "SGK2", "FBXO2", "PLEKHO1", "TMEM145", "SCRT1", "TTR"]
gene_fc = [-2.54, -1.74, -2.16, -2.19, -1.86, 1.03, 1.03, 1.05, 1.28, 3.24]
gene_p = [16.44, 14.74, 13.04, 12.77, 12.53, 11.82, 11.41, 9.14, 7.63, 9.37]

x_ticks = [-3, -2, -1, 0, 1, 2, 3]
y_ticks = [0, 5, 10, 15]
fc_cut = [-1, 1]
p_cut = [7.216, 4.616]

# ---------------- layout ----------------
label_pos = {  # text centre x, baseline y (data units)
    "TMEM144": (-2.54, 15.90), "CD9": (-1.731, 14.92), "CARNS1": (-2.159, 13.23),
    "MOG": (-2.20, 12.23), "SGK2": (-1.41, 12.71), "FBXO2": (1.032, 11.96),
    "PLEKHO1": (1.027, 10.91), "TMEM145": (1.688, 9.31), "SCRT1": (1.305, 7.77),
    "TTR": (3.24, 9.52),
}
leaders = {"SGK2": (-1.672, 12.71), "TMEM145": (1.247, 9.31)}

W, H = 1344, 1230
fig = plt.figure(figsize=(W / 100, H / 100), dpi=100)
ax = fig.add_axes([133 / W, (H - 1105) / H, 1220 / W, 1093 / H])

for v in fc_cut:
    ax.axvline(v, color='#BEBEBE', lw=1.5, zorder=1)
for h in p_cut:
    ax.axhline(h, color='#BEBEBE', lw=1.5, zorder=1)

black = (black_left_core + black_left_core2 + black_left_core3
         + black_right_core + black_right_core2 + black_right_core3
         + black_left_scatter + black_right_scatter)
ax.scatter([p[0] for p in black], [p[1] for p in black], s=11, c='black', linewidths=0, zorder=2)
red = red_left + red_right
ax.scatter([p[0] for p in red], [p[1] for p in red], s=44, c='#FF0000', linewidths=0, zorder=3)

for g, fx, fp in zip(genes, gene_fc, gene_p):
    tx, ty = label_pos[g]
    ax.text(tx, ty, g, ha='center', va='baseline', fontsize=25.5, color='black', zorder=4)
    if g in leaders:
        lx, ly = leaders[g]
        ax.plot([fx + (0.03 if fx < 0 else 0.025), lx], [fp, ly], color='black', lw=1.3, zorder=4)

ax.set_xlim(-3.117, 3.485)
ax.set_ylim(-0.666, 17.097)
ax.set_xticks(x_ticks)
ax.set_xticklabels([str(t) for t in x_ticks])
ax.set_yticks(y_ticks)
ax.set_yticklabels([str(t) for t in y_ticks], rotation=90, va='center')

for sp in ax.spines.values():
    sp.set_linewidth(1.5)
ax.tick_params(axis='both', direction='out', length=15, width=1.5, labelsize=26)
ax.tick_params(axis='x', pad=20)
ax.tick_params(axis='y', pad=14)

fig.text(710 / W, (H - 1221) / H, "log2 Fold Change", ha='center', va='baseline',
         fontsize=29, fontweight='bold')
fig.text(42 / W, (H - 562) / H, "-log p-value", ha='center', va='baseline', rotation=90,
         rotation_mode='anchor', fontsize=29, fontweight='bold')

fig.savefig("out.png", dpi=100)
